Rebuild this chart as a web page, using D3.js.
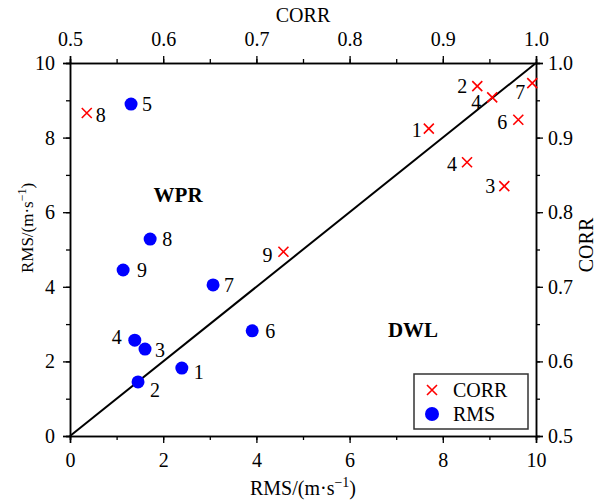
<!DOCTYPE html>
<html>
<head>
<meta charset="utf-8">
<script src="https://cdn.jsdelivr.net/npm/d3@7"></script>
<style>
  html, body { margin: 0; padding: 0; background: #fff; }
  svg { display: block; }
  svg text { font-family: "Liberation Serif", "DejaVu Serif", serif !important; }
</style>
</head>
<body>
<svg id="chart" width="598" height="500"></svg>
<script>
// ---------- data ----------
const rmsLabels = ["1", "2", "3", "4", "5", "6", "7", "8", "9"];
const rmsX      = [2.40, 1.46, 1.61, 1.39, 1.31, 3.91, 3.07, 1.72, 1.14];
const rmsY      = [1.82, 1.45, 2.33, 2.57, 8.90, 2.82, 4.05, 5.28, 4.45];

const corrLabels = ["1", "2", "3", "4", "4", "6", "7", "8", "9"];
const corrX      = [0.885, 0.937, 0.966, 0.926, 0.953, 0.981, 0.996, 0.518, 0.729];
const corrY      = [0.912, 0.969, 0.835, 0.867, 0.954, 0.924, 0.973, 0.933, 0.747];

const rmsTicks  = [0, 2, 4, 6, 8, 10];
const corrTicks = [0.5, 0.6, 0.7, 0.8, 0.9, 1.0];

// ---------- layout ----------
const W = 598, H = 500;
const L = 70, R = 536, T = 63, B = 436;
const FONT = 20;

// label offsets (px) relative to marker centre
const rmsLabelOff  = [[17,4],[17,8],[15,1],[-18,-3],[16,0],[18,0],[16,0],[17,0],[19,0]];
const corrLabelOff = [[-12,1],[-15,0],[-14,0],[-15,2],[-16,5],[-16,2],[-12,9],[14,2],[-16,3]];

const svg = d3.select("#chart");

const x  = d3.scaleLinear().domain([0, 10]).range([L, R]);
const y  = d3.scaleLinear().domain([0, 10]).range([B, T]);
const xc = d3.scaleLinear().domain([0.5, 1]).range([L, R]);
const yc = d3.scaleLinear().domain([0.5, 1]).range([B, T]);

function styleAxis(g) {
  g.attr("font-family", null);
  g.selectAll("path.domain").attr("stroke", "#000").attr("stroke-width", 1.5);
  g.selectAll(".tick line").attr("stroke", "#000").attr("stroke-width", 1.3);
  g.selectAll(".tick text").attr("fill", "#000").style("font-size", FONT + "px");
}

// minor ticks
const minorR = d3.range(0, 10.01, 1);
const minorC = d3.range(0.5, 1.001, 0.05);
svg.append("g").attr("transform", `translate(0,${B})`)
  .call(d3.axisBottom(x).tickValues(minorR).tickSize(4).tickFormat(""))
  .call(styleAxis);
svg.append("g").attr("transform", `translate(${L},0)`)
  .call(d3.axisLeft(y).tickValues(minorR).tickSize(4).tickFormat(""))
  .call(styleAxis);
svg.append("g").attr("transform", `translate(0,${T})`)
  .call(d3.axisTop(xc).tickValues(minorC).tickSize(4).tickFormat(""))
  .call(styleAxis);
svg.append("g").attr("transform", `translate(${R},0)`)
  .call(d3.axisRight(yc).tickValues(minorC).tickSize(4).tickFormat(""))
  .call(styleAxis);

// major ticks
svg.append("g").attr("transform", `translate(0,${B})`)
  .call(d3.axisBottom(x).tickValues(rmsTicks).tickSize(7).tickPadding(10).tickFormat(d3.format("d")))
  .call(styleAxis);
svg.append("g").attr("transform", `translate(${L},0)`)
  .call(d3.axisLeft(y).tickValues(rmsTicks).tickSize(7).tickPadding(8).tickFormat(d3.format("d")))
  .call(styleAxis);
svg.append("g").attr("transform", `translate(0,${T})`)
  .call(d3.axisTop(xc).tickValues(corrTicks).tickSize(7).tickPadding(10).tickFormat(d3.format(".1f")))
  .call(styleAxis);
svg.append("g").attr("transform", `translate(${R},0)`)
  .call(d3.axisRight(yc).tickValues(corrTicks).tickSize(7).tickPadding(5).tickFormat(d3.format(".1f")))
  .call(styleAxis);

// axis titles
function rmsTitle(sel, size) {
  sel.style("font-size", size + "px").attr("fill", "#000");
  sel.append("tspan").text("RMS/(m·s");
  sel.append("tspan").attr("dy", -size * 0.42).style("font-size", (size * 0.7) + "px").text("−1");
  sel.append("tspan").attr("dy", size * 0.42).text(")");
}
svg.append("text").attr("x", (L + R) / 2).attr("y", 495).attr("text-anchor", "middle").call(rmsTitle, FONT);
svg.append("text").attr("transform", `translate(33,228) rotate(-90)`).attr("text-anchor", "middle").call(rmsTitle, 17);
svg.append("text").attr("x", (L + R) / 2).attr("y", 22).attr("text-anchor", "middle")
  .style("font-size", FONT + "px").text("CORR");
svg.append("text").attr("transform", `translate(593,245) rotate(-90)`).attr("text-anchor", "middle")
  .style("font-size", FONT + "px").text("CORR");

// 1:1 line
svg.append("line")
  .attr("x1", x(0)).attr("y1", y(0)).attr("x2", x(10)).attr("y2", y(10))
  .attr("stroke", "#000").attr("stroke-width", 2);

// region annotations
const annotations = [{text: "WPR", vx: 2.32, vy: 6.46}, {text: "DWL", vx: 7.36, vy: 2.84}];
svg.selectAll("text.ann").data(annotations).join("text").attr("class", "ann")
  .attr("x", d => x(d.vx)).attr("y", d => y(d.vy) + 7)
  .attr("text-anchor", "middle").style("font-size", "21px").style("font-weight", "bold")
  .text(d => d.text);

// RMS points
const rmsData = rmsLabels.map((l, i) => ({l, x: rmsX[i], y: rmsY[i], off: rmsLabelOff[i]}));
svg.selectAll("circle.rms").data(rmsData).join("circle").attr("class", "rms")
  .attr("cx", d => x(d.x)).attr("cy", d => y(d.y)).attr("r", 6.5).attr("fill", "#0000ff");
svg.selectAll("text.rmsl").data(rmsData).join("text").attr("class", "rmsl")
  .attr("x", d => x(d.x) + d.off[0]).attr("y", d => y(d.y) + d.off[1] + 7)
  .attr("text-anchor", "middle").style("font-size", FONT + "px").text(d => d.l);

// CORR points
const cs = 5;
const corrData = corrLabels.map((l, i) => ({l, x: corrX[i], y: corrY[i], off: corrLabelOff[i]}));
const cg = svg.selectAll("g.corr").data(corrData).join("g").attr("class", "corr")
  .attr("transform", d => `translate(${xc(d.x)},${yc(d.y)})`);
cg.append("path").attr("d", `M${-cs},${-cs}L${cs},${cs}M${-cs},${cs}L${cs},${-cs}`)
  .attr("stroke", "#ff0000").attr("stroke-width", 1.6).attr("fill", "none");
svg.selectAll("text.corrl").data(corrData).join("text").attr("class", "corrl")
  .attr("x", d => xc(d.x) + d.off[0]).attr("y", d => yc(d.y) + d.off[1] + 7)
  .attr("text-anchor", "middle").style("font-size", FONT + "px").text(d => d.l);

// legend
const lg = svg.append("g");
lg.append("rect").attr("x", 414).attr("y", 374).attr("width", 114).attr("height", 55)
  .attr("fill", "#fff").attr("stroke", "#333").attr("stroke-width", 1.5);
lg.append("path").attr("d", `M${432-cs},${390-cs}L${432+cs},${390+cs}M${432-cs},${390+cs}L${432+cs},${390-cs}`)
  .attr("stroke", "#ff0000").attr("stroke-width", 1.6);
lg.append("text").attr("x", 453).attr("y", 397).style("font-size", FONT + "px").text("CORR");
lg.append("circle").attr("cx", 432).attr("cy", 414).attr("r", 7).attr("fill", "#0000ff");
lg.append("text").attr("x", 453).attr("y", 421).style("font-size", FONT + "px").text("RMS");
</script>
</body>
</html>
